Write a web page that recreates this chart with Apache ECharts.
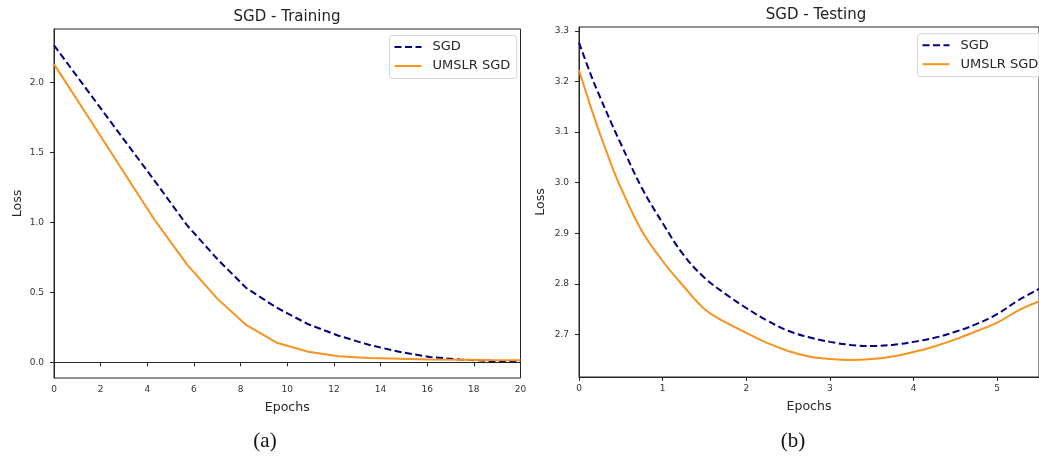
<!DOCTYPE html>
<html><head><meta charset="utf-8">
<script src="https://cdn.jsdelivr.net/npm/echarts@6/dist/echarts.min.js"></script>
<style>html,body{margin:0;padding:0;background:#fff}#c{width:1039px;height:457px}</style>
</head><body><div id="c"></div>
<script>
// ---- data ----
const trainEpochs = [0, 1.4, 2.8, 4.3, 5.7, 7.0, 8.25, 9.55, 10.9, 12.2, 13.5, 14.8, 16.1, 17.4, 18.7, 20];
const trainSGD    = [2.265, 1.95, 1.635, 1.30, 0.98, 0.738, 0.53, 0.39, 0.272, 0.19, 0.125, 0.075, 0.038, 0.02, 0.01, 0.005];
const trainUMSLR  = [2.13, 1.77, 1.408, 1.02, 0.70, 0.455, 0.265, 0.14, 0.075, 0.043, 0.03, 0.025, 0.02, 0.018, 0.016, 0.015];

const testEpochs = [0, 0.15, 0.25, 0.4, 0.5, 0.75, 1.0, 1.25, 1.5, 1.75, 2.0, 2.25, 2.5, 2.75, 3.0, 3.25, 3.5, 3.75, 4.0, 4.25, 4.5, 4.75, 5.0, 5.25, 5.5];
const testSGD    = [3.277, 3.21, 3.17, 3.113, 3.077, 2.99, 2.92, 2.857, 2.812, 2.78, 2.752, 2.727, 2.707, 2.694, 2.685, 2.679, 2.677, 2.679, 2.685, 2.693, 2.705, 2.72, 2.74, 2.767, 2.79];
const testUMSLR  = [3.223, 3.145, 3.097, 3.03, 2.99, 2.905, 2.845, 2.795, 2.75, 2.724, 2.703, 2.683, 2.667, 2.656, 2.651, 2.649, 2.651, 2.656, 2.665, 2.676, 2.69, 2.706, 2.723, 2.747, 2.765];

const trainXTicks = [0, 2, 4, 6, 8, 10, 12, 14, 16, 18, 20];
const trainYTicks = [0, 0.5, 1.0, 1.5, 2.0];
const testXTicks  = [0, 1, 2, 3, 4, 5];
const testYTicks  = [2.7, 2.8, 2.9, 3.0, 3.1, 3.2, 3.3];

const seriesNames = ['SGD', 'UMSLR SGD'];
const titles = ['SGD - Training', 'SGD - Testing'];
const captions = ['(a)', '(b)'];

// ---- styling ----
const FONT = 'DejaVu Sans';
const NAVY = '#000080';
const ORANGE = '#f7931e';
const AX = '#262626';

const zip = (xs, ys) => xs.map((x, i) => [x, ys[i]]);

function xAxisCfg(grid, min, max, ticks) {
  return {
    type: 'value', gridIndex: grid, min: min, max: max,
    name: 'Epochs', nameLocation: 'middle', nameGap: 23,
    nameTextStyle: { fontFamily: FONT, fontSize: 12.5, color: '#262626' },
    axisLine: { show: true, lineStyle: { color: AX, width: 1 } },
    axisTick: { show: true, length: 4, lineStyle: { color: AX }, customValues: ticks },
    axisLabel: { customValues: ticks, margin: 7, fontFamily: FONT, fontSize: 9, color: '#333',
      formatter: v => String(Math.round(v)) },
    splitLine: { show: false }
  };
}
function yAxisCfg(grid, min, max, ticks, gap) {
  return {
    type: 'value', gridIndex: grid, min: min, max: max,
    name: 'Loss', nameLocation: 'middle', nameGap: gap,
    nameTextStyle: { fontFamily: FONT, fontSize: 12.5, color: '#262626' },
    axisLine: { show: true, lineStyle: { color: AX, width: 1 } },
    axisTick: { show: true, length: 4, lineStyle: { color: AX }, customValues: ticks },
    axisLabel: { customValues: ticks, margin: 10, fontFamily: FONT, fontSize: 9, color: '#333',
      formatter: v => v.toFixed(1) },
    splitLine: { show: false }
  };
}
function legendCfg(left, top) {
  return {
    data: seriesNames, orient: 'vertical', left: left, top: top,
    itemWidth: 27, itemHeight: 14, itemGap: 6,
    padding: [5, 6.5, 6, 4],
    itemStyle: { opacity: 0 },
    borderColor: '#d5d5d5', borderWidth: 1, borderRadius: 3,
    backgroundColor: 'rgba(255,255,255,0.85)',
    textStyle: { fontFamily: FONT, fontSize: 13, color: '#262626', padding: [0, 0, 0, 6] },
    selectedMode: false
  };
}
function lineSeries(name, xi, data, color, dashed, smooth) {
  return {
    name: name, type: 'line', xAxisIndex: xi, yAxisIndex: xi,
    data: data, symbol: 'none', smooth: smooth, animation: false,
    lineStyle: { color: color, width: 2, type: dashed ? [7, 3.5] : 'solid' },
    itemStyle: { color: color }
  };
}

const chart = echarts.init(document.getElementById('c'), null, { renderer: 'canvas' });
chart.setOption({
  backgroundColor: '#fff',
  animation: false,
  title: [
    { text: titles[0], left: 287, top: 10, textAlign: 'center', padding: 0,
      textStyle: { fontFamily: FONT, fontSize: 15, fontWeight: 'normal', color: '#222' } },
    { text: titles[1], left: 816, top: 8, textAlign: 'center', padding: 0,
      textStyle: { fontFamily: FONT, fontSize: 15, fontWeight: 'normal', color: '#222' } }
  ],
  grid: [
    { left: 54, top: 29, width: 466.5, height: 349, show: true, borderColor: AX, borderWidth: 1, backgroundColor: 'transparent' },
    { left: 579, top: 27, width: 475.2, height: 350, show: true, borderColor: AX, borderWidth: 1, backgroundColor: 'transparent' }
  ],
  xAxis: [
    xAxisCfg(0, 0, 20, trainXTicks),
    xAxisCfg(1, 0, 5.5, testXTicks)
  ],
  yAxis: [
    yAxisCfg(0, -0.112, 2.381, trainYTicks, 30),
    yAxisCfg(1, 2.6155, 3.308, testYTicks, 32)
  ],
  legend: [legendCfg(389.5, 35.5), legendCfg(917.5, 33.7)],
  series: [
    lineSeries(seriesNames[0], 0, zip(trainEpochs, trainSGD), NAVY, true, false),
    lineSeries(seriesNames[1], 0, zip(trainEpochs, trainUMSLR), ORANGE, false, false),
    lineSeries(seriesNames[0], 1, zip(testEpochs, testSGD), NAVY, true, 0.4),
    lineSeries(seriesNames[1], 1, zip(testEpochs, testUMSLR), ORANGE, false, 0.4)
  ],
  graphic: [
    { type: 'text', x: 265, y: 441, style: { text: captions[0], fontFamily: 'Liberation Serif', fontSize: 21, fill: '#111', textAlign: 'center', textVerticalAlign: 'middle' } },
    { type: 'text', x: 793, y: 441, style: { text: captions[1], fontFamily: 'Liberation Serif', fontSize: 21, fill: '#111', textAlign: 'center', textVerticalAlign: 'middle' } }
  ]
});
</script>
</body></html>
